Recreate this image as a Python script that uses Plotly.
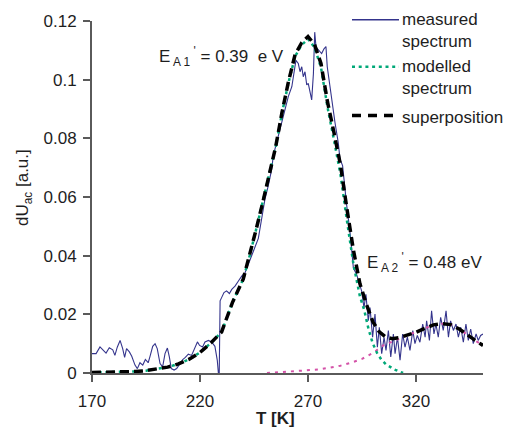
import plotly.graph_objects as go

# ---- data ----
T_meas = [170.0, 171.9, 173.7, 175.2, 176.5, 178.0, 179.6, 180.6, 181.7, 183.0, 184.2, 185.1, 186.0,
          187.3, 188.4, 189.9, 191.0, 192.2, 193.5, 194.7, 196.0, 196.8, 198.1, 199.2, 200.2, 201.5,
          202.7, 203.8, 204.9, 205.8, 206.7, 208.0, 209.2, 210.7, 212.0, 213.2, 214.6, 216.1, 217.7,
          218.8, 219.8, 221.2, 222.3, 223.9, 225.4, 226.9, 228.0, 228.5, 228.9, 229.3, 230.0, 231.1,
          232.3, 233.6, 234.7, 236.2, 237.7, 239.3, 240.8, 242.4, 243.1, 244.7, 247.0, 248.6, 249.3,
          250.1, 251.6, 253.2, 253.9, 255.5, 257.0, 258.6, 260.9, 262.5, 263.5, 264.4, 265.5, 266.3,
          267.1, 267.8, 268.6, 269.4, 270.1, 270.9, 271.7, 272.5, 273.1, 273.7, 274.8, 276.3, 277.4,
          278.3, 278.9, 279.9, 281.0, 282.5, 284.0, 284.8, 286.0, 286.7, 287.9, 289.4, 290.2, 291.0,
          292.5, 294.1, 294.8, 295.9, 296.8, 297.9, 298.7, 299.9, 301.0, 302.1, 303.0, 304.1, 305.2,
          306.1, 307.2, 308.3, 309.5, 310.3, 311.4, 312.6, 313.8, 314.9, 316.0, 317.2, 318.5, 319.5,
          320.6, 321.8, 323.1, 324.2, 324.9, 326.2, 327.2, 328.3, 329.2, 330.3, 331.4, 332.6, 333.9,
          335.0, 336.0, 337.3, 338.5, 339.6, 340.7, 341.9, 343.1, 344.2, 345.3, 346.5, 347.8, 348.8,
          349.9, 351.0]
v_meas = [0.0066, 0.0066, 0.0089, 0.0077, 0.0068, 0.0086, 0.0079, 0.0060, 0.0088, 0.0111, 0.0083, 0.0053, 0.0083,
          0.0072, 0.0057, 0.0027, 0.0015, 0.0035, 0.0027, 0.0046, 0.0035, 0.0055, 0.0091, 0.0100, 0.0083, 0.0032,
          0.0021, 0.0066, 0.0085, 0.0055, 0.0015, 0.0010, 0.0015, 0.0032, 0.0046, 0.0053, 0.0064, 0.0060, 0.0089,
          0.0106, 0.0094, 0.0089, 0.0106, 0.0111, 0.0106, 0.0091, 0.0043, 0.0000, 0.0000, 0.0246, 0.0257, 0.0274,
          0.0280, 0.0271, 0.0285, 0.0296, 0.0313, 0.0330, 0.0341, 0.0369, 0.0381, 0.0415, 0.0459, 0.0527, 0.0566,
          0.0594, 0.0639, 0.0695, 0.0740, 0.0785, 0.0830, 0.0875, 0.0943, 0.0976, 0.1021, 0.1066, 0.1055, 0.1027,
          0.1044, 0.1010, 0.1027, 0.0982, 0.0987, 0.0954, 0.0931, 0.1021, 0.1162, 0.1111, 0.1100, 0.1089, 0.1105,
          0.1113, 0.1044, 0.0987, 0.0931, 0.0853, 0.0785, 0.0729, 0.0707, 0.0650, 0.0572, 0.0482, 0.0415, 0.0358,
          0.0336, 0.0302, 0.0280, 0.0223, 0.0268, 0.0178, 0.0223, 0.0122, 0.0201, 0.0088, 0.0156, 0.0066, 0.0122,
          0.0077, 0.0145, 0.0055, 0.0133, 0.0066, 0.0122, 0.0044, 0.0133, 0.0088, 0.0122, 0.0077, 0.0145, 0.0100,
          0.0128, 0.0105, 0.0167, 0.0122, 0.0178, 0.0111, 0.0212, 0.0133, 0.0167, 0.0122, 0.0190, 0.0145, 0.0212,
          0.0122, 0.0178, 0.0145, 0.0167, 0.0122, 0.0156, 0.0105, 0.0167, 0.0111, 0.0150, 0.0100, 0.0133, 0.0111,
          0.0128, 0.0133]

T_sup = [170, 180, 190, 195, 200, 205, 210, 215, 220, 225, 230, 235, 240, 243, 246, 249, 252, 255, 258,
         261, 264, 267, 270, 273, 276, 279, 282, 285, 288, 291, 294, 297, 300, 303, 306, 309, 312, 316,
         320, 324, 328, 332, 336, 340, 344, 348, 351]
v_sup = [0.0002, 0.0003, 0.0005, 0.0008, 0.0013, 0.0020, 0.0031, 0.0047, 0.0070, 0.0102, 0.0140, 0.0240,
         0.0320, 0.0400, 0.0490, 0.0580, 0.0670, 0.0770, 0.0890, 0.0995, 0.1085, 0.1125, 0.1147, 0.1120,
         0.1055, 0.0925, 0.0820, 0.0710, 0.0560, 0.0420, 0.0305, 0.0235, 0.0175, 0.0140, 0.0122, 0.0117,
         0.0120, 0.0128, 0.0139, 0.0152, 0.0164, 0.0168, 0.0165, 0.0150, 0.0128, 0.0108, 0.0094]

T_mod1 = [170, 180, 190, 195, 200, 205, 210, 215, 220, 225, 230, 235, 240, 243, 246, 249, 252, 255, 258,
          261, 264, 267, 270, 273, 276, 279, 282, 285, 288, 291, 294, 296, 298, 300, 302, 304, 306, 308,
          310, 312, 314]
v_mod1 = [0.0002, 0.0003, 0.0005, 0.0008, 0.0013, 0.0020, 0.0031, 0.0047, 0.0070, 0.0102, 0.0140, 0.0240,
          0.0320, 0.0400, 0.0490, 0.0580, 0.0670, 0.0769, 0.0888, 0.0991, 0.1079, 0.1118, 0.1139, 0.1110,
          0.1042, 0.0907, 0.0795, 0.0678, 0.0520, 0.0372, 0.0262, 0.0215, 0.0150, 0.0100, 0.0068, 0.0045,
          0.0030, 0.0020, 0.0012, 0.0006, 0.0000]

T_mod2 = [251, 255, 260, 265, 270, 275, 280, 285, 290, 295, 300, 305, 310, 316, 320, 324, 328, 332, 336,
          340, 344, 348, 351]
v_mod2 = [0.0000, 0.0002, 0.0004, 0.0006, 0.0008, 0.0012, 0.0018, 0.0025, 0.0035, 0.0048, 0.0068, 0.0095,
          0.0110, 0.0128, 0.0139, 0.0152, 0.0164, 0.0168, 0.0165, 0.0150, 0.0128, 0.0108, 0.0094]

x_ticks = [170, 220, 270, 320]
y_ticks = [0, 0.02, 0.04, 0.06, 0.08, 0.1, 0.12]
y_tick_labels = ["0", "0.02", "0.04", "0.06", "0.08", "0.1", "0.12"]

FONT = "Liberation Sans, Arial, Helvetica, sans-serif"
NAVY = "#34348c"
GREEN = "#00a878"
PINK = "#d452a8"
AXIS = "#5a5a5a"
TXT = "#1e1e1e"

fig = go.Figure()
fig.add_trace(go.Scatter(x=T_meas, y=v_meas, mode="lines", name="measured spectrum",
                         line=dict(color=NAVY, width=1.1)))
fig.add_trace(go.Scatter(x=T_mod2, y=v_mod2, mode="lines", name="modelled spectrum 2",
                         line=dict(color=PINK, width=2, dash="3px,5px")))
fig.add_trace(go.Scatter(x=T_mod1, y=v_mod1, mode="lines", name="modelled spectrum",
                         line=dict(color=GREEN, width=2.5, dash="3px,3.7px")))
fig.add_trace(go.Scatter(x=T_sup, y=v_sup, mode="lines", name="superposition",
                         line=dict(color="black", width=3.5, dash="9px,5px")))

W, H = 505, 430
L, R, TOP, B = 92, 22, 19, 57
pw, ph = W - L - R, H - TOP - B


def px(xp):
    return (xp - L) / pw


def py(yp):
    return (H - B - yp) / ph


shapes = []
legend_items = [
    (17.7, dict(color=NAVY, width=1.5), "measured<br>spectrum", 28.5),
    (65.0, dict(color=GREEN, width=2.5, dash="3px,3.7px"), "modelled<br>spectrum", 76.0),
    (114.0, dict(color="black", width=3.5, dash="9px,7px"), "superposition", 116.0),
]
annotations = []
for yl, ln, txt, yt in legend_items:
    shapes.append(dict(type="line", xref="paper", yref="paper", x0=px(352), x1=px(399),
                       y0=py(yl), y1=py(yl), line=ln))
    annotations.append(dict(xref="paper", yref="paper", x=px(400), y=py(yt), text=txt,
                            showarrow=False, xanchor="left", yanchor="middle", align="left",
                            font=dict(family=FONT, size=17, color=TXT)))

annotations += [
    dict(xref="paper", yref="paper", x=px(157), y=py(55),
         text="E<sub> A 1</sub><sup> '</sup> = 0.39  e V", showarrow=False,
         xanchor="left", yanchor="middle", font=dict(family=FONT, size=17, color=TXT)),
    dict(xref="paper", yref="paper", x=px(365), y=py(262),
         text="E<sub> A 2</sub><sup> '</sup> = 0.48 eV", showarrow=False,
         xanchor="left", yanchor="middle", font=dict(family=FONT, size=17, color=TXT)),
    dict(xref="paper", yref="paper", x=px(24), y=py(187), textangle=-90,
         text="dU<sub>ac</sub> [a.u.]", showarrow=False,
         xanchor="center", yanchor="middle", font=dict(family=FONT, size=17, color=TXT)),
    dict(xref="paper", yref="paper", x=px(275), y=py(419),
         text="<b>T [K]</b>", showarrow=False,
         xanchor="center", yanchor="middle", font=dict(family=FONT, size=17, color=TXT)),
]

fig.update_layout(
    width=W, height=H,
    margin=dict(l=L, r=R, t=TOP, b=B),
    paper_bgcolor="white", plot_bgcolor="white",
    showlegend=False,
    shapes=shapes, annotations=annotations,
    font=dict(family=FONT, size=17, color=TXT),
    xaxis=dict(range=[170, 351], tickvals=x_ticks, showgrid=False, zeroline=False,
               showline=True, linecolor=AXIS, linewidth=2, ticks="outside", ticklen=7,
               tickwidth=2, tickcolor=AXIS, ticklabelstandoff=5,
               tickfont=dict(family=FONT, size=17, color=TXT)),
    yaxis=dict(range=[0, 0.12], tickvals=y_ticks, ticktext=y_tick_labels, showgrid=False,
               zeroline=False, showline=True, linecolor=AXIS, linewidth=2, ticks="outside",
               ticklen=7, tickwidth=2, tickcolor=AXIS, ticklabelstandoff=3,
               tickfont=dict(family=FONT, size=17, color=TXT)),
)

fig.write_html("out.html")
